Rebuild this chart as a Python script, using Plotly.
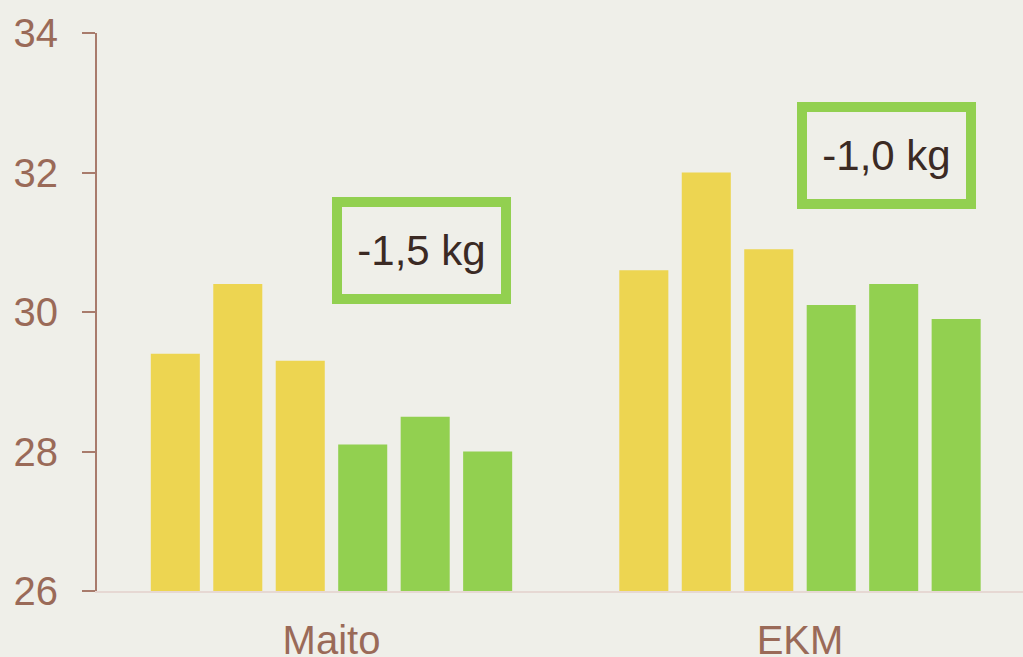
import plotly.graph_objects as go

categories = ["Maito", "EKM"]
series_names = ["Mittaus 1", "Mittaus 2", "Mittaus 3", "Mittaus 4", "Mittaus 5", "Mittaus 6"]
series_values = [
    [29.4, 30.6],
    [30.4, 32.0],
    [29.3, 30.9],
    [28.1, 30.1],
    [28.5, 30.4],
    [28.0, 29.9],
]
series_colors = ["#EDD551", "#EDD551", "#EDD551", "#92D050", "#92D050", "#92D050"]
y_ticks = [26, 28, 30, 32, 34]
notes = ["-1,5 kg", "-1,0 kg"]
note_x = [0.193, 1.185]
note_y = [30.88, 32.24]

BG = "#EFEFE9"
LABEL = "#9A6A58"

fig = go.Figure()
for name, vals, col in zip(series_names, series_values, series_colors):
    fig.add_trace(go.Bar(x=categories, y=vals, name=name, marker_color=col,
                         marker_line_width=0))

for t, xx, yy in zip(notes, note_x, note_y):
    fig.add_annotation(x=xx, y=yy, xref="x", yref="y", text=t, showarrow=False,
                       font=dict(family="Liberation Sans, Arial", size=42, color="#3B2A24"),
                       bordercolor="#92D050", borderwidth=10, borderpad=0,
                       width=159, height=87, bgcolor=BG)

fig.update_layout(
    width=1023, height=657,
    margin=dict(l=97, r=0, t=33, b=66, autoexpand=False),
    paper_bgcolor=BG, plot_bgcolor=BG,
    barmode="group", bargap=0.2, bargroupgap=0.215,
    showlegend=False,
    font=dict(family="Liberation Sans, Arial", size=40, color=LABEL),
)
fig.update_xaxes(range=[-0.5005, 1.476], showgrid=False, showline=True,
                 linecolor="#E6D8D3", linewidth=2, ticks="", automargin=False,
                 tickfont=dict(size=40, color=LABEL), ticklabelstandoff=13)
fig.update_yaxes(range=[26, 34], tickvals=y_ticks, showgrid=False, zeroline=False,
                 showline=True, linecolor="#A87B6C", linewidth=2, automargin=False,
                 ticks="outside", ticklen=13, tickwidth=2, tickcolor="#A87B6C",
                 tickfont=dict(size=40, color=LABEL), ticklabelstandoff=16)

fig.write_html("out.html", config={"displayModeBar": False},
               post_script="document.body.style.margin='0';document.body.style.background='#EFEFE9';")
